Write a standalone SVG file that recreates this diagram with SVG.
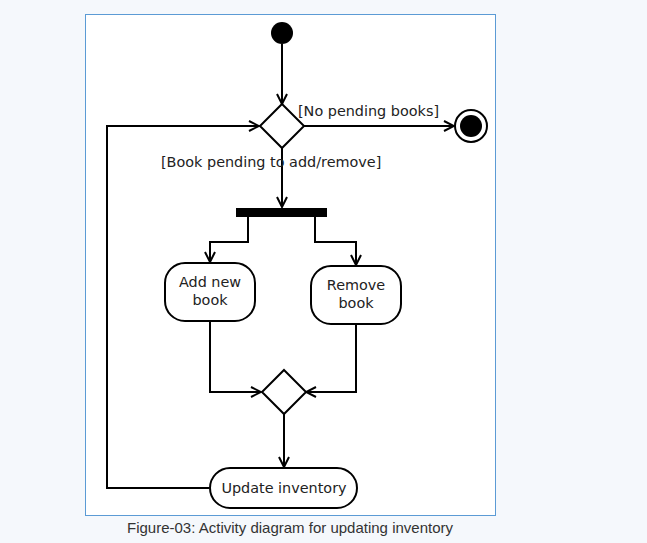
<svg xmlns="http://www.w3.org/2000/svg" width="647" height="543" viewBox="0 0 647 543">
<defs>
<marker id="arr" viewBox="0 0 12 12" refX="11" refY="6" markerWidth="12" markerHeight="12" markerUnits="userSpaceOnUse" orient="auto">
<path d="M1,1 L11,6 L1,11" fill="none" stroke="#000" stroke-width="2"/>
</marker>
<style>
.ln{fill:none;stroke:#000;stroke-width:2;marker-end:url(#arr)}
.nd{fill:#fff;stroke:#000;stroke-width:2}
.t{font-family:"DejaVu Sans",sans-serif;font-size:14.4px;fill:#222}
.tc{font-family:"DejaVu Sans",sans-serif;font-size:14.4px;fill:#222;text-anchor:middle}
</style>
</defs>
<rect x="0" y="0" width="647" height="543" fill="#f5f8fc"/>
<rect x="85.5" y="14.5" width="410" height="501" fill="#fff" stroke="#5b9bd5" stroke-width="1"/>
<g id="connectors">
<path class="ln" d="M282,44 V104"/>
<path class="ln" d="M209,488 H107 V126 H259"/>
<path class="ln" d="M304,126 H454"/>
<path class="ln" d="M282,148 V207"/>
<path class="ln" d="M248,217 V242 H210 V262"/>
<path class="ln" d="M315,217 V242 H356 V265"/>
<path class="ln" d="M210,321 V392 H261"/>
<path class="ln" d="M356,324 V392 H306"/>
<path class="ln" d="M284,414 V467"/>
</g>
<g id="start"><circle cx="282" cy="33" r="11" fill="#000"/></g>
<g id="decision1"><polygon class="nd" points="282,104 304,126 282,148 260,126"/></g>
<g id="end"><circle cx="471" cy="126" r="16" fill="#fff" stroke="#000" stroke-width="2"/><circle cx="471" cy="126" r="11" fill="#000"/></g>
<g id="fork"><rect x="236" y="208" width="91" height="9" fill="#000"/></g>
<g id="addBook"><rect class="nd" x="165" y="263" width="90" height="58" rx="20"/><text class="tc" x="210" y="287">Add new</text><text class="tc" x="210" y="305">book</text></g>
<g id="removeBook"><rect class="nd" x="311" y="266" width="90" height="58" rx="20"/><text class="tc" x="356" y="290">Remove</text><text class="tc" x="356" y="308">book</text></g>
<g id="merge"><polygon class="nd" points="284,370 306,392 284,414 262,392"/></g>
<g id="update"><rect class="nd" x="210" y="468" width="147" height="40" rx="20"/><text class="tc" x="284" y="493">Update inventory</text></g>
<g id="labels">
<text class="t" x="298" y="116">[No pending books]</text>
<text class="t" x="161" y="167">[Book pending to add/remove]</text>
</g>
<text x="290" y="533" font-family="Liberation Sans, Arial, sans-serif" font-size="15" fill="#333" text-anchor="middle">Figure-03: Activity diagram for updating inventory</text>
</svg>
